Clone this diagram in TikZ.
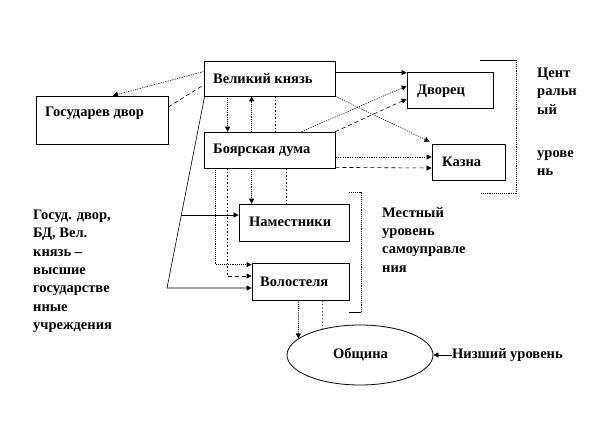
\documentclass[tikz,border=0pt]{standalone}
\usepackage{fontspec}
\setmainfont{Liberation Serif}
\usetikzlibrary{arrows.meta,shapes.geometric,calc}
\begin{document}
\begin{tikzpicture}[x=1pt,y=-1pt,
  font=\fontsize{14.5}{18.3}\selectfont\bfseries,
  box/.style={draw, line width=0.8pt, inner sep=0pt},
  txt/.style={inner sep=0pt, anchor=west},
  lbl/.style={inner sep=0pt, anchor=north west, align=left},
  arr/.style={-{Triangle[length=5pt,width=5pt]}},
  sol/.style={line width=0.6pt},
  dot/.style={line width=0.9pt, densely dotted},
  fdot/.style={line width=0.6pt, dash pattern=on 1.2pt off 1.2pt},
  dsh/.style={line width=0.6pt, dash pattern=on 4pt off 3pt},
  sdsh/.style={line width=0.7pt, dash pattern=on 1.5pt off 2pt},
]
\useasboundingbox (0,0) rectangle (612,420);
% boxes
\node[box, minimum width=131pt, minimum height=35pt] (vk) at (269.5,78.5) {};
\node[txt] (vkt) at (213,79) {Великий князь};
\node[box, minimum width=132pt, minimum height=48pt] (gd) at (102,120) {};
\node[txt] (gdt) at (45,113) {Государев двор};
\node[box, minimum width=131pt, minimum height=36pt] (bd) at (269.5,150) {};
\node[txt] (bdt) at (213,150) {Боярская дума};
\node[box, minimum width=86pt, minimum height=36pt] (dv) at (450,90) {};
\node[txt] (dvt) at (417,91) {Дворец};
\node[box, minimum width=73pt, minimum height=36pt] (kz) at (468.5,162) {};
\node[txt] (kzt) at (442,162) {Казна};
\node[box, minimum width=110pt, minimum height=37pt] (nm) at (294,222.5) {};
\node[txt] (nmt) at (249,222) {Наместники};
\node[box, minimum width=97pt, minimum height=37pt] (vl) at (300.5,281.5) {};
\node[txt] (vlt) at (260,282) {Волостеля};
\node[draw, line width=0.8pt, ellipse, minimum width=146pt, minimum height=60pt, inner sep=0pt] (ob) at (360,355) {};
\node[txt] (obt) at (333,355) {Община};
% texts
\node[txt] (niz) at (452,355) {Низший уровень};
\node[lbl] (cent) at (537,68) {Цент\\ральн\\ый};
\node[lbl] (urov) at (537,150) {урове\\нь};
\node[lbl] (mest) at (382,207) {Местный\\уровень\\самоуправле\\ния};
\node[lbl] (lt) at (33,210) {Госуд. двор,\\БД, Вел.\\князь --\\высшие\\государстве\\нные\\учреждения};
% brackets
\draw[sol] (480,60) -- (516,60);
\draw[dot] (516,60) -- (516,193) -- (480,193);
\draw[dot] (349,192) -- (361,192) -- (361,312);
\draw[sol] (361,312) -- (349,312);
% connectors: Великий князь -- Государев двор
\draw[fdot,arr] ($(vk.north west)+(0,11)$) -- ($(gd.north)+(11,0)$);
\draw[dsh] ($(gd.east)+(0,-13)$) -- ($(vk.west)+(0,6.5)$);
% long solid line to local level
\coordinate (kink) at (167,288);
\coordinate (br) at (181.4,215);
\draw[sol,arr] ($(vk.south west)+(1,0)$) -- (kink) -- (kink -| vl.west);
\draw[sol,arr] (br) -- (br -| nm.west);
% Великий князь <-> Боярская дума
\draw[dot,arr] ($(vk.south west)+(24,0)$) -- ($(bd.north west)+(24,0)$);
\draw[dot,arr] ($(bd.north west)+(48,0)$) -- ($(vk.south west)+(48,0)$);
\draw[sdsh] ($(vk.south west)+(72,0)$) -- ($(bd.north west)+(72,0)$);
% Боярская дума -> local
\coordinate (v1) at ($(vl.north west)+(0,2)$);
\coordinate (v2) at ($(vl.west)+(0,-5.5)$);
\coordinate (b1) at ($(bd.south west)+(12,0)$);
\coordinate (b2) at ($(bd.south west)+(24,0)$);
\draw[dot,arr] (b1) |- (v1);
\draw[sdsh] (b2) -- (b2 |- v2);
\draw[dsh,arr] (b2 |- v2) -- (v2);
\draw[dot,arr] ($(bd.south west)+(48,0)$) -- ($(nm.north west)+(13,0)$);
\draw[sdsh] ($(bd.south west)+(83,0)$) -- ($(nm.north west)+(48,0)$);
% Волостеля -> Община
\draw[dot,arr] ($(vl.south west)+(47,0)$) -- (ob.165);
\draw[sdsh] ($(vl.south west)+(71,0)$) -- (ob.145);
% central level
\coordinate (d1) at ($(dv.north west)+(0,1)$);
\draw[sol,arr] (vk.east |- d1) -- (d1);
\draw[fdot,arr] (vk.south east) -- ($(kz.north west)+(-2,-2)$);
\draw[fdot,arr] ($(bd.north west)+(98,0)$) -- ($(dv.west)+(0,-4)$);
\draw[dsh,arr] (bd.north east) -- ($(dv.west)+(0,9)$);
\draw[fdot,arr] ($(bd.east)+(0,7)$) -- ($(kz.west)+(0,-5)$);
\draw[dsh,arr] ($(bd.south east)+(0,-1)$) -- ($(kz.west)+(0,6)$);
% lower level
\draw[sol,arr] (niz.west) -- (ob.east);
\end{tikzpicture}
\end{document}
